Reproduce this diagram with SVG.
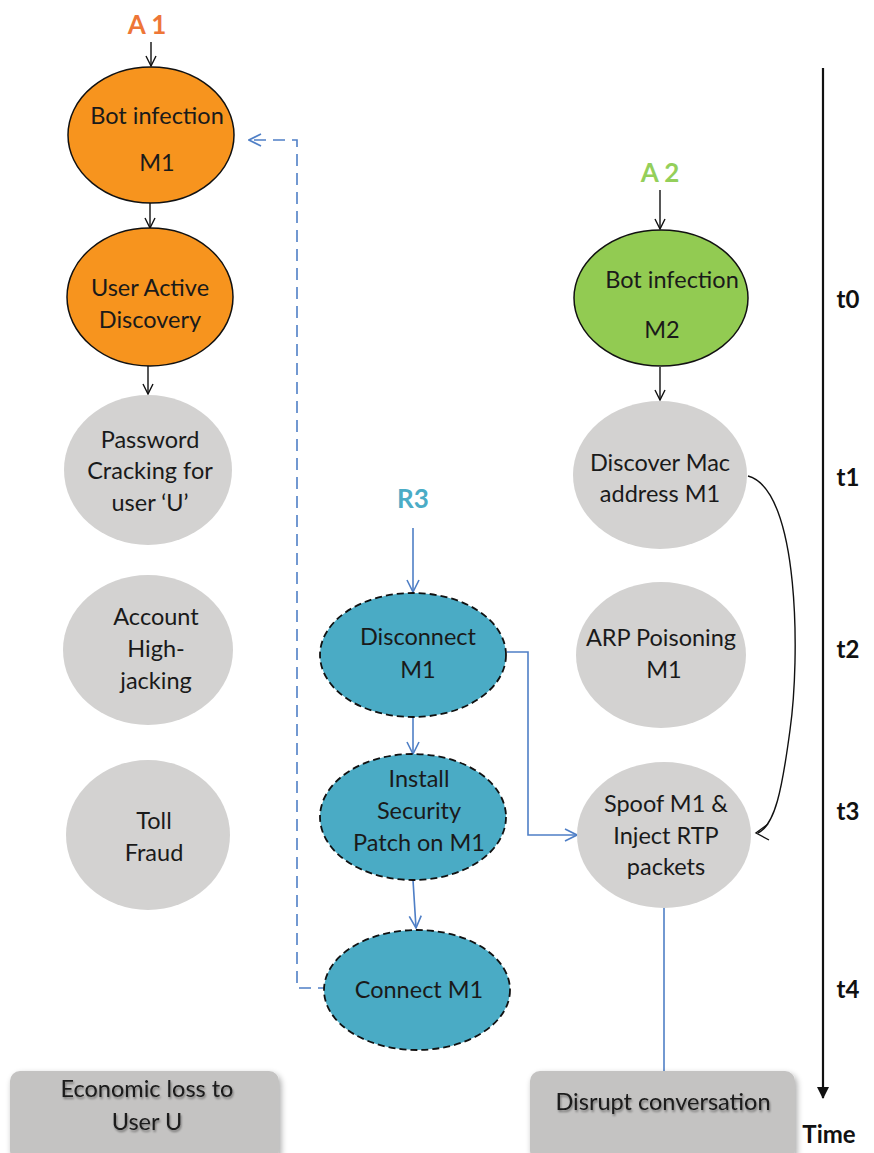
<svg xmlns="http://www.w3.org/2000/svg" width="874" height="1153" viewBox="0 0 874 1153">
  <defs>
    <marker id="open-black" viewBox="0 0 12 12" refX="11" refY="6" markerWidth="12" markerHeight="12" markerUnits="userSpaceOnUse" orient="auto">
      <path d="M1,1 L11,6 L1,11" fill="none" stroke="#111" stroke-width="1.4"/>
    </marker>
    <marker id="open-blue" viewBox="0 0 14 14" refX="13" refY="7" markerWidth="14" markerHeight="14" markerUnits="userSpaceOnUse" orient="auto">
      <path d="M1,1 L13,7 L1,13" fill="none" stroke="#4F7FC6" stroke-width="1.6"/>
    </marker>
    <marker id="solid-black" viewBox="0 0 12 16" refX="11" refY="8" markerWidth="12" markerHeight="16" markerUnits="userSpaceOnUse" orient="auto">
      <path d="M0,2 L12,8 L0,14 Z" fill="#111"/>
    </marker>
    <filter id="shadow" x="-10%" y="-10%" width="125%" height="130%">
      <feGaussianBlur in="SourceAlpha" stdDeviation="3"/>
      <feOffset dx="2" dy="3" result="b"/>
      <feComponentTransfer><feFuncA type="linear" slope="0.35"/></feComponentTransfer>
      <feMerge><feMergeNode/><feMergeNode in="SourceGraphic"/></feMerge>
    </filter>
    <filter id="tshadow" x="-5%" y="-20%" width="115%" height="150%">
      <feGaussianBlur in="SourceAlpha" stdDeviation="1.2"/>
      <feOffset dx="1" dy="2" result="b"/>
      <feComponentTransfer><feFuncA type="linear" slope="0.4"/></feComponentTransfer>
      <feMerge><feMergeNode/><feMergeNode in="SourceGraphic"/></feMerge>
    </filter>
  </defs>
  <style>
    text { font-family: Lato, "Open Sans", "Liberation Sans", sans-serif; font-size: 23.5px; fill: #1a1a1a; text-anchor: middle; }
    .orange { fill: #F7941E; stroke: #111; stroke-width: 1.5; }
    .green { fill: #92CB52; stroke: #111; stroke-width: 1.5; }
    .grey { fill: #D3D2D1; }
    .teal { fill: #4AABC5; stroke: #111; stroke-width: 1.8; stroke-dasharray: 7 4; }
    .box { fill: #C4C3C2; }
    .lbl { font-weight: bold; font-size: 26px; }
    .tick { font-weight: bold; font-size: 24px; fill: #111; }
    .c-black { fill: none; stroke: #111; stroke-width: 1.4; }
    .c-blue { fill: none; stroke: #4F7FC6; stroke-width: 1.6; }
  </style>

  <rect width="874" height="1153" fill="#fff"/>

  <!-- Connectors -->
  <g id="connectors">
    <line class="c-black" x1="151" y1="42" x2="151" y2="66" marker-end="url(#open-black)"/>
    <line class="c-black" x1="150" y1="203" x2="150" y2="228" marker-end="url(#open-black)"/>
    <line class="c-black" x1="148" y1="366" x2="148" y2="394" marker-end="url(#open-black)"/>
    <line class="c-black" x1="660" y1="190" x2="660" y2="229" marker-end="url(#open-black)"/>
    <line class="c-black" x1="660" y1="367" x2="660" y2="400" marker-end="url(#open-black)"/>
    <path class="c-black" d="M748,476 C800,490 800,660 790,730 C782,790 775,825 758,833" />
    <path class="c-black" d="M768,824 L756,833 L769,840"/>
    <line class="c-blue" x1="413" y1="528" x2="413" y2="592" marker-end="url(#open-blue)"/>
    <line class="c-blue" x1="413" y1="717" x2="413" y2="754" marker-end="url(#open-blue)"/>
    <line class="c-blue" x1="413" y1="880" x2="416" y2="928" marker-end="url(#open-blue)"/>
    <polyline class="c-blue" points="507,652 528,652 528,835 577,835" marker-end="url(#open-blue)"/>
    <polyline class="c-blue" points="330,988 297,988 297,140 249,140" stroke-dasharray="12 7" marker-end="url(#open-blue)"/>
    <line class="c-blue" x1="664" y1="905" x2="664" y2="1072"/>
    <line x1="823" y1="68" x2="823" y2="1098" stroke="#111" stroke-width="2.2" marker-end="url(#solid-black)"/>
  </g>

  <!-- Attacker / responder labels -->
  <text class="lbl" x="147" y="34" style="fill:#EE7637">A 1</text>
  <text class="lbl" x="660" y="182" style="fill:#94CF5A">A 2</text>
  <text class="lbl" x="413" y="508" style="fill:#4BACC6">R3</text>

  <!-- Attack chain A1 -->
  <g id="bot-infection-m1">
    <ellipse class="orange" cx="151" cy="135" rx="83" ry="68"/>
    <text x="157" y="124">Bot infection</text>
    <text x="157" y="171">M1</text>
  </g>
  <g id="user-active-discovery">
    <ellipse class="orange" cx="150" cy="297" rx="83" ry="69"/>
    <text x="150" y="296">User Active</text>
    <text x="150" y="328">Discovery</text>
  </g>
  <g id="password-cracking">
    <ellipse class="grey" cx="148" cy="470" rx="84" ry="75"/>
    <text x="150" y="448">Password</text>
    <text x="150" y="479">Cracking for</text>
    <text x="150" y="511">user ‘U’</text>
  </g>
  <g id="account-hijacking">
    <ellipse class="grey" cx="148" cy="650" rx="85" ry="75"/>
    <text x="156" y="625">Account</text>
    <text x="156" y="657">High-</text>
    <text x="156" y="689">jacking</text>
  </g>
  <g id="toll-fraud">
    <ellipse class="grey" cx="148" cy="835" rx="82" ry="75"/>
    <text x="154" y="829">Toll</text>
    <text x="154" y="861">Fraud</text>
  </g>
  <g id="economic-loss" filter="url(#shadow)">
    <rect class="box" x="10" y="1071" width="269" height="90" rx="10"/>
    <text x="147" y="1097" filter="url(#tshadow)">Economic loss to</text>
    <text x="147" y="1130" filter="url(#tshadow)">User U</text>
  </g>

  <!-- Attack chain A2 -->
  <g id="bot-infection-m2">
    <ellipse class="green" cx="661" cy="298" rx="87" ry="68"/>
    <text x="672" y="288">Bot infection</text>
    <text x="662" y="338">M2</text>
  </g>
  <g id="discover-mac">
    <ellipse class="grey" cx="660" cy="475" rx="87" ry="74"/>
    <text x="660" y="471">Discover Mac</text>
    <text x="660" y="502">address M1</text>
  </g>
  <g id="arp-poisoning">
    <ellipse class="grey" cx="661" cy="655" rx="85" ry="73"/>
    <text x="661" y="646">ARP Poisoning</text>
    <text x="664" y="678">M1</text>
  </g>
  <g id="spoof-inject">
    <ellipse class="grey" cx="664" cy="835" rx="87" ry="73"/>
    <text x="666" y="812">Spoof M1 &amp;</text>
    <text x="666" y="844">Inject RTP</text>
    <text x="666" y="875">packets</text>
  </g>
  <g id="disrupt-conversation" filter="url(#shadow)">
    <rect class="box" x="530" y="1071" width="265" height="90" rx="10"/>
    <text x="663" y="1110" filter="url(#tshadow)">Disrupt conversation</text>
  </g>

  <!-- Response R3 -->
  <g id="disconnect-m1">
    <ellipse class="teal" cx="413" cy="655" rx="93" ry="62"/>
    <text x="418" y="645">Disconnect</text>
    <text x="418" y="678">M1</text>
  </g>
  <g id="install-patch">
    <ellipse class="teal" cx="413" cy="817" rx="93" ry="63"/>
    <text x="419" y="787">Install</text>
    <text x="419" y="819">Security</text>
    <text x="419" y="851">Patch on M1</text>
  </g>
  <g id="connect-m1">
    <ellipse class="teal" cx="417" cy="990" rx="93" ry="60"/>
    <text x="419" y="998">Connect M1</text>
  </g>

  <!-- Time axis labels -->
  <text class="tick" x="848" y="308">t0</text>
  <text class="tick" x="848" y="486">t1</text>
  <text class="tick" x="848" y="658">t2</text>
  <text class="tick" x="848" y="820">t3</text>
  <text class="tick" x="848" y="998">t4</text>
  <text class="tick" x="829" y="1143">Time</text>
</svg>
